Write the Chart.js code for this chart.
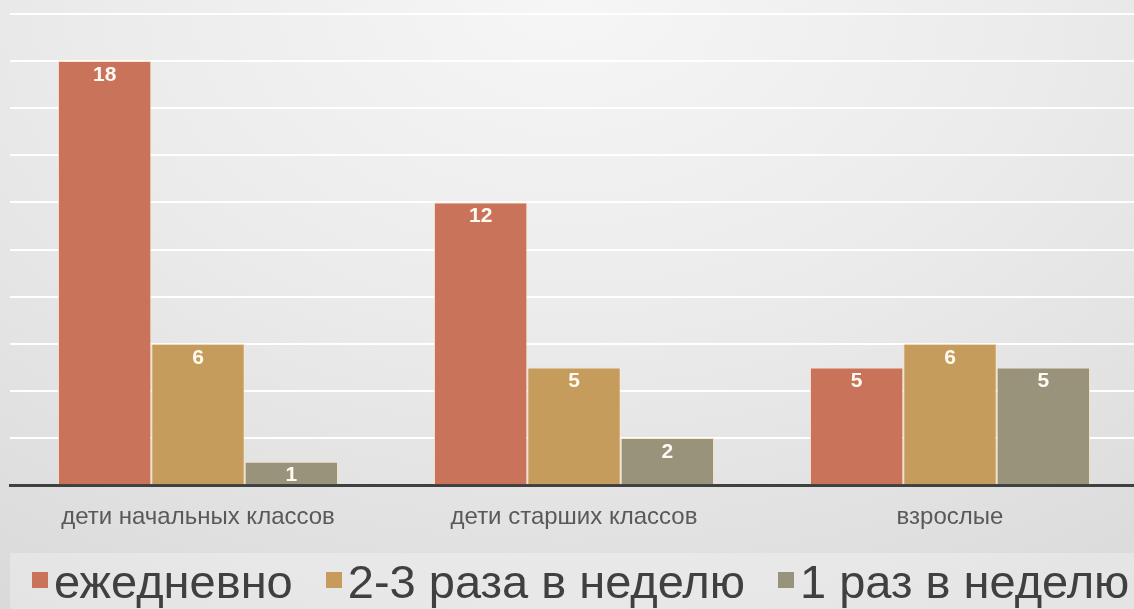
<!DOCTYPE html>
<html><head><meta charset="utf-8">
<script src="https://cdn.jsdelivr.net/npm/chart.js@4.4.1/dist/chart.umd.min.js"></script>
<style>
html,body{margin:0;padding:0;width:1134px;height:609px;overflow:hidden;}
body{position:relative;background:radial-gradient(ellipse 95% 120% at 50% 0%, #f6f6f6 0%, #ebebeb 45%, #d9d9d9 100%);font-family:"Liberation Sans",Arial,sans-serif;}
#wrap{position:absolute;left:0;top:0;width:1140px;height:560px;}
#legendBand{position:absolute;left:10px;top:553px;width:1130px;height:56px;background:rgba(255,255,255,0.28);}
#legend{position:absolute;left:32px;top:556px;white-space:nowrap;font-size:47px;line-height:52px;color:#404040;}
#legend .item{display:inline-block;margin-right:33px;}
#legend .sw{display:inline-block;width:16px;height:16px;margin-right:6px;position:relative;top:-10px;}
</style></head>
<body>
<div id="wrap"><canvas id="c" width="1140" height="560"></canvas></div>
<div id="legendBand"></div>
<div id="legend"></div>
<script>
const categories = ["дети начальных классов", "дети старших классов", "взрослые"];
const seriesNames = ["ежедневно", "2-3 раза в неделю", "1 раз в неделю"];
const daily = [18, 12, 5];
const twoThreeWeekly = [6, 5, 6];
const onceWeekly = [1, 2, 5];
const seriesColors = ["#C9735B", "#C59C5B", "#9A937B"];
const yMin = 0, yMax = 20, yStep = 2;

const seriesValues = [daily, twoThreeWeekly, onceWeekly];

const valueLabels = {
  id: 'valueLabels',
  afterDatasetsDraw(chart) {
    const ctx = chart.ctx;
    ctx.save();
    ctx.font = 'bold 21px "Liberation Sans", Arial, sans-serif';
    ctx.fillStyle = '#fffaf2';
    ctx.textAlign = 'center';
    ctx.textBaseline = 'middle';
    chart.data.datasets.forEach((ds, i) => {
      const meta = chart.getDatasetMeta(i);
      meta.data.forEach((el, j) => {
        ctx.fillText(String(ds.data[j]), el.x, el.y + 14);
      });
    });
    ctx.restore();
  }
};

new Chart(document.getElementById('c'), {
  type: 'bar',
  data: {
    labels: categories,
    datasets: seriesNames.map((name, i) => ({
      label: name,
      data: seriesValues[i],
      backgroundColor: seriesColors[i],
      borderColor: 'rgba(255,226,192,0.85)',
      borderWidth: {top: 1, left: 1, right: 1, bottom: 0},
      borderSkipped: 'bottom',
      categoryPercentage: 0.745,
      barPercentage: 1
    }))
  },
  options: {
    responsive: false,
    animation: false,
    layout: {padding: {top: 14, bottom: 10, left: 10, right: 2}},
    plugins: {legend: {display: false}, tooltip: {enabled: false}},
    scales: {
      x: {
        grid: {display: false, drawTicks: false},
        border: {display: true, color: '#404040', width: 3},
        ticks: {color: '#595959', padding: 18, font: {size: 24, family: '"Liberation Sans", Arial, sans-serif'}}
      },
      y: {
        min: yMin, max: yMax,
        ticks: {display: false, stepSize: yStep},
        border: {display: false},
        grid: {drawTicks: false, lineWidth: 2, color: (c) => c.tick && c.tick.value === 0 ? 'rgba(0,0,0,0)' : '#ffffff'}
      }
    }
  },
  plugins: [valueLabels]
});

const leg = document.getElementById('legend');
seriesNames.forEach((name, i) => {
  const it = document.createElement('span');
  it.className = 'item';
  const sw = document.createElement('span');
  sw.className = 'sw';
  sw.style.background = seriesColors[i];
  it.appendChild(sw);
  it.appendChild(document.createTextNode(name));
  leg.appendChild(it);
});
</script>
</body></html>
